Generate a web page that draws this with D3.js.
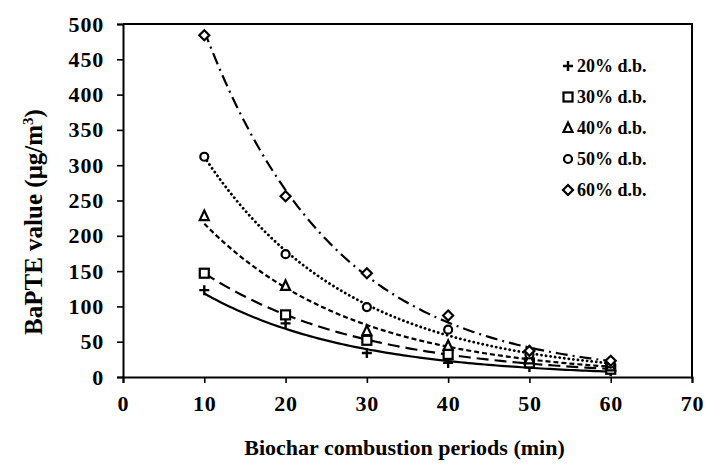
<!DOCTYPE html>
<html>
<head>
<meta charset="utf-8">
<script src="https://cdn.jsdelivr.net/npm/d3@7"></script>
<style>
  body { margin: 0; background: #fff; }
  text { font-family: "Liberation Serif", "Times New Roman", serif; font-weight: bold; }
</style>
</head>
<body>
<svg id="chart" width="706" height="465"></svg>
<script>
// combustion periods (min)
var periods = [10, 20, 30, 40, 50, 60];

// BaPTE values (ug/m3)
var db20 = [123, 76, 34, 20, 14, 8];
var db30 = [147, 88, 52, 32, 20, 11];
var db40 = [228, 129, 65, 44, 25, 15];
var db50 = [312, 174, 99, 67, 32, 19];
var db60 = [484, 256, 147, 87, 37, 23];

var seriesNames = ['20% d.b.', '30% d.b.', '40% d.b.', '50% d.b.', '60% d.b.'];
var xTicks = [0, 10, 20, 30, 40, 50, 60, 70];
var yTicks = [0, 50, 100, 150, 200, 250, 300, 350, 400, 450, 500];

(function () {
  var series = [
    { name: seriesNames[0], values: db20, symbol: 'plus',     dash: null },
    { name: seriesNames[1], values: db30, symbol: 'square',   dash: '12,6' },
    { name: seriesNames[2], values: db40, symbol: 'triangle', dash: '5,3' },
    { name: seriesNames[3], values: db50, symbol: 'circle',   dash: '0.1,4.5' },
    { name: seriesNames[4], values: db60, symbol: 'diamond',  dash: '12,5,2,5' }
  ];

  var svg = d3.select('#chart'),
      pl = 123, pr = 692, pt = 24, pb = 377;

  var x = d3.scaleLinear().domain([0, 70]).range([pl, pr]);
  var y = d3.scaleLinear().domain([0, 500]).range([pb, pt]);

  // frame (top + right edges)
  svg.append('path')
    .attr('d', 'M' + pl + ',' + pt + 'H' + pr + 'V' + pb)
    .attr('fill', 'none').attr('stroke', '#000').attr('stroke-width', 2);

  //------------- axes
  var xAxis = svg.append('g')
    .attr('transform', 'translate(0,' + pb + ')')
    .call(d3.axisBottom(x).tickValues(xTicks).tickSize(6).tickPadding(12));

  var yAxis = svg.append('g')
    .attr('transform', 'translate(' + pl + ',0)')
    .call(d3.axisLeft(y).tickValues(yTicks).tickSize(6).tickPadding(13));

  [xAxis, yAxis].forEach(function (g) {
    g.select('.domain').attr('stroke-width', 2).attr('stroke', '#000');
    g.selectAll('.tick line').attr('stroke-width', 1.6).attr('stroke', '#000');
    g.selectAll('.tick text')
      .attr('fill', '#000')
      .style('font-size', '22px')
      .style('letter-spacing', '0.8px')
      .style('font-family', '"Liberation Serif", serif')
      .style('font-weight', 'bold');
  });

  // axis titles
  svg.append('text')
    .attr('x', (pl + pr) / 2 - 3)
    .attr('y', 455)
    .attr('text-anchor', 'middle')
    .style('font-size', '22px')
    .text('Biochar combustion periods (min)');

  var yt = svg.append('text')
    .attr('transform', 'translate(42,' + 222 + ') rotate(-90)')
    .attr('text-anchor', 'middle')
    .style('font-size', '25px');
  yt.append('tspan').text('BaPTE value (μg/m');
  yt.append('tspan').attr('dy', -9).style('font-size', '15px').text('3');
  yt.append('tspan').attr('dy', 9).text(')');

  //------------- exponential trendlines (least squares on ln y, like Excel)
  function expFit(xs, ys) {
    var n = xs.length,
        lys = ys.map(function (v) { return Math.log(v); }),
        mx = d3.mean(xs), my = d3.mean(lys),
        sxy = 0, sxx = 0;
    for (var i = 0; i < n; i++) {
      sxy += (xs[i] - mx) * (lys[i] - my);
      sxx += (xs[i] - mx) * (xs[i] - mx);
    }
    var b = sxy / sxx, a = Math.exp(my - b * mx);
    return function (t) { return a * Math.exp(b * t); };
  }

  var line = d3.line().x(function (d) { return x(d[0]); }).y(function (d) { return y(d[1]); });
  var xs = d3.range(10, 60.01, 0.5);

  series.forEach(function (s) {
    var f = expFit(periods, s.values);
    svg.append('path')
      .datum(xs.map(function (t) { return [t, f(t)]; }))
      .attr('d', line)
      .attr('fill', 'none')
      .attr('stroke', '#000')
      .attr('stroke-width', s.symbol === 'circle' ? 2.8 : 2.2)
      .attr('stroke-linecap', s.symbol === 'circle' ? 'round' : 'butt')
      .attr('stroke-dasharray', s.dash);
  });

  //------------- markers
  function drawSymbol(g, type, cx, cy) {
    var sw = 2.2;
    if (type === 'plus') {
      g.append('path')
        .attr('d', 'M' + (cx - 5) + ',' + cy + 'H' + (cx + 5) + 'M' + cx + ',' + (cy - 5) + 'V' + (cy + 5))
        .attr('stroke', '#000').attr('stroke-width', 2.4).attr('fill', 'none');
    } else if (type === 'square') {
      g.append('rect').attr('x', cx - 4.5).attr('y', cy - 4.5).attr('width', 9).attr('height', 9)
        .attr('fill', '#fff').attr('stroke', '#000').attr('stroke-width', sw);
    } else if (type === 'triangle') {
      g.append('path')
        .attr('d', 'M' + cx + ',' + (cy - 5.5) + 'L' + (cx + 4.5) + ',' + (cy + 4) + 'L' + (cx - 4.5) + ',' + (cy + 4) + 'Z')
        .attr('fill', '#fff').attr('stroke', '#000').attr('stroke-width', sw);
    } else if (type === 'circle') {
      g.append('circle').attr('cx', cx).attr('cy', cy).attr('r', 4)
        .attr('fill', '#fff').attr('stroke', '#000').attr('stroke-width', sw);
    } else if (type === 'diamond') {
      g.append('path')
        .attr('d', 'M' + cx + ',' + (cy - 5) + 'L' + (cx + 5) + ',' + cy + 'L' + cx + ',' + (cy + 5) + 'L' + (cx - 5) + ',' + cy + 'Z')
        .attr('fill', '#fff').attr('stroke', '#000').attr('stroke-width', sw);
    }
  }

  var marks = svg.append('g');
  series.forEach(function (s) {
    s.values.forEach(function (v, i) {
      drawSymbol(marks, s.symbol, x(periods[i]), y(v));
    });
  });

  //------------- legend
  var legend = svg.append('g');
  series.forEach(function (s, i) {
    var ly = 66 + i * 31;
    drawSymbol(legend, s.symbol, 568, ly);
    legend.append('text')
      .attr('x', 577)
      .attr('y', ly + 6)
      .style('font-size', '18px')
      .text(s.name);
  });
})();
</script>
</body>
</html>
